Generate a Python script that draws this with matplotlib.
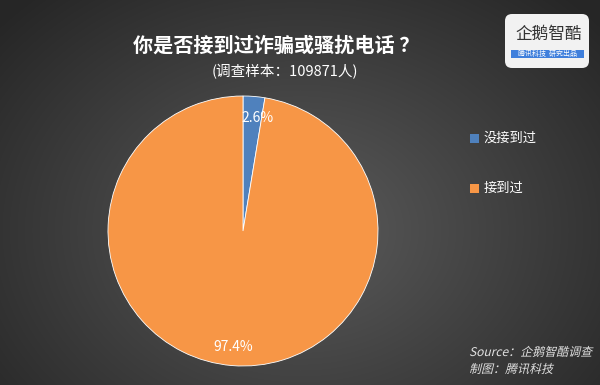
import matplotlib
matplotlib.use("Agg")
import matplotlib.pyplot as plt
import numpy as np
from matplotlib.patches import FancyBboxPatch, Rectangle, PathPatch
from matplotlib.textpath import TextPath
from matplotlib.font_manager import FontProperties
from matplotlib.transforms import Affine2D

plt.rcParams['font.family'] = ['Noto Sans CJK SC', 'DejaVu Sans']

categories = ["没接到过", "接到过"]
values = [2.6, 97.4]
colors = ["#4f81bd", "#f79646"]
title = "你是否接到过诈骗或骚扰电话 ？"
subtitle = "(调查样本：109871人)"
source_lines = ["Source：企鹅智酷调查", "制图：腾讯科技"]

W, H = 600, 385
fig = plt.figure(figsize=(W/100, H/100), dpi=100)

# background radial gradient
bg = fig.add_axes([0, 0, 1, 1])
yy, xx = np.mgrid[0:H, 0:W]
d = np.sqrt(((xx - 300) / 420.0) ** 2 + ((yy - 230) / 330.0) ** 2)
lum = np.clip(0.36 - 0.22 * d, 0.15, 0.4)
img = np.dstack([lum, lum, lum])
bg.imshow(img, extent=[0, W, H, 0], aspect='auto')
bg.set_xlim(0, W); bg.set_ylim(H, 0)
bg.axis('off')

# pie
cx, cy, r = 243, 231, 135
ax = fig.add_axes([(cx - r) / W, (H - cy - r) / H, 2 * r / W, 2 * r / H])
wedges, texts, autotexts = ax.pie(values, colors=colors, startangle=90, counterclock=False,
                                  autopct='%1.1f%%', pctdistance=0.86,
                                  wedgeprops=dict(edgecolor='white', linewidth=0.6),
                                  textprops=dict(color='white', fontsize=10))
autotexts[0].set_position((0.11, 0.84))
ax.set_xlim(-1, 1); ax.set_ylim(-1, 1)
ax.set_aspect('auto')
ax.axis('off')

# titles
bg.text(276, 45, title, color='white', fontsize=14.5, fontweight='bold', ha='center', va='center')
bg.text(285, 72, subtitle, color='white', fontsize=10.5, ha='center', va='center')

# legend
for i, (cat, col) in enumerate(zip(categories, colors)):
    y = 138 + i * 50
    bg.add_patch(Rectangle((470, y - 4.5), 9, 9, facecolor=col, edgecolor='none'))
    bg.text(484, y, cat, color='white', fontsize=9.5, va='center', ha='left')

# logo
bg.add_patch(FancyBboxPatch((505, 14), 84, 54, boxstyle="round,pad=0,rounding_size=7",
                            facecolor='#f2f2f2', edgecolor='none'))
bg.text(549, 34, "企鹅智酷", color='#333333', fontsize=12, ha='center', va='center')
bg.add_patch(Rectangle((511, 50), 73, 8, facecolor='#3f7fdc', edgecolor='none'))
bg.text(547, 54, "腾讯科技  研究出品", color='white', fontsize=5, ha='center', va='center')

# source (italic via skewed text paths)
fp = FontProperties(family='Noto Sans CJK SC')
for i, s in enumerate(source_lines):
    tp = TextPath((0, 0), s, size=12, prop=fp)
    tr = Affine2D().skew_deg(14, 0).scale(1, -1).translate(469, 356 + i * 17) + bg.transData
    bg.add_patch(PathPatch(tp, transform=tr, facecolor='#e0e0e0', edgecolor='none'))

fig.savefig("out.png", dpi=100)
